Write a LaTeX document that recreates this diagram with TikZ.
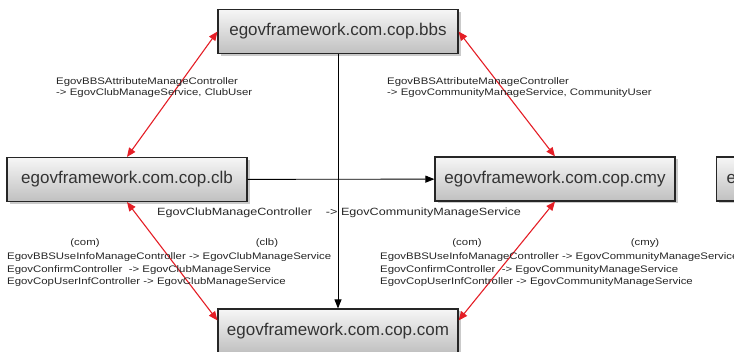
\documentclass[tikz,border=0pt]{standalone}
\usepackage{fontspec}
\setmainfont{Liberation Sans}
\newfontfamily\lblfont[FakeStretch=1.2]{Liberation Sans}
\usetikzlibrary{arrows.meta,shadows}
\definecolor{boxtop}{RGB}{246,246,246}
\definecolor{boxbottom}{RGB}{192,192,192}
\definecolor{linkred}{RGB}{228,30,38}
\tikzset{
    pkg/.style={draw=black!85, line width=1.1pt, top color=boxtop, bottom color=boxbottom,
        minimum width=240pt, minimum height=44pt, inner sep=0pt, text=black!80,
        font=\fontsize{17}{20}\selectfont,
        drop shadow={shadow xshift=2.5pt, shadow yshift=-2.5pt, opacity=0.35, fill=black!60}},
    uses/.style={line width=0.9pt, -{Triangle[length=9pt,width=7pt]}},
    refs/.style={draw=linkred, line width=1.1pt,
        {Triangle[length=9pt,width=7.5pt]}-{Triangle[length=9pt,width=7.5pt]}},
    lbl/.style={inner sep=0pt, anchor=west, align=left, text=black!85,
        font=\lblfont\fontsize{9.5}{12.5}\selectfont}
}
\begin{document}
\begin{tikzpicture}[x=1pt,y=-1pt]
        %fix the canvas to the reference size
        \useasboundingbox (0,0) rectangle (734,352);
        \clip (0,0) rectangle (734,352);

        %draw the package boxes
        \node[pkg] (bbs) at (338,31.5) {egovframework.com.cop.bbs};
        \node[pkg] (clb) at (127,179.5) {egovframework.com.cop.clb};
        \node[pkg] (cmy) at (555,179) {egovframework.com.cop.cmy};
        \node[pkg] (com) at (338,331) {egovframework.com.cop.com};
        \node[pkg, anchor=west, minimum width=0pt, inner xsep=10pt, text width=220pt, align=left] (nxt) at (716,179) {e};

        %black dependency arrows
        \draw[uses] (bbs) -- (com);
        \draw[uses] (clb) -- (cmy);

        %red two way arrows
        \draw[refs] (clb.north) -- (bbs.west);
        \draw[refs] (bbs.east) -- (cmy.north);
        \draw[refs] (clb.south) -- (com.175);
        \draw[refs] (cmy.south) -- (com.5);

        %labels on the arrows
        \node[lbl, font=\lblfont\fontsize{9.5}{11}\selectfont] (bbsclb) at (56,88)
            {EgovBBSAttributeManageController\\-> EgovClubManageService, ClubUser};
        \node[lbl, font=\lblfont\fontsize{9.5}{11}\selectfont] (bbscmy) at (387,88)
            {EgovBBSAttributeManageController\\-> EgovCommunityManageService, CommunityUser};
        \node[lbl, font=\lblfont\fontsize{10.5}{12}\selectfont] (clbcmy) at (157,213)
            {EgovClubManageController\hspace{14pt}-> EgovCommunityManageService};

        \node[lbl, anchor=center] (comtagl) at (85,243) {(com)};
        \node[lbl, anchor=center] (clbtag) at (267,243) {(clb)};
        \node[lbl] (comclb) at (7,270)
            {EgovBBSUseInfoManageController -> EgovClubManageService\\
             EgovConfirmController~ -> EgovClubManageService\\
             EgovCopUserInfController -> EgovClubManageService};

        \node[lbl, anchor=center] (comtagr) at (467,243) {(com)};
        \node[lbl, anchor=center] (cmytag) at (645,243) {(cmy)};
        \node[lbl] (comcmy) at (380,270)
            {EgovBBSUseInfoManageController -> EgovCommunityManageService\\
             EgovConfirmController~ -> EgovCommunityManageService\\
             EgovCopUserInfController -> EgovCommunityManageService};

    \end{tikzpicture}
\end{document}
